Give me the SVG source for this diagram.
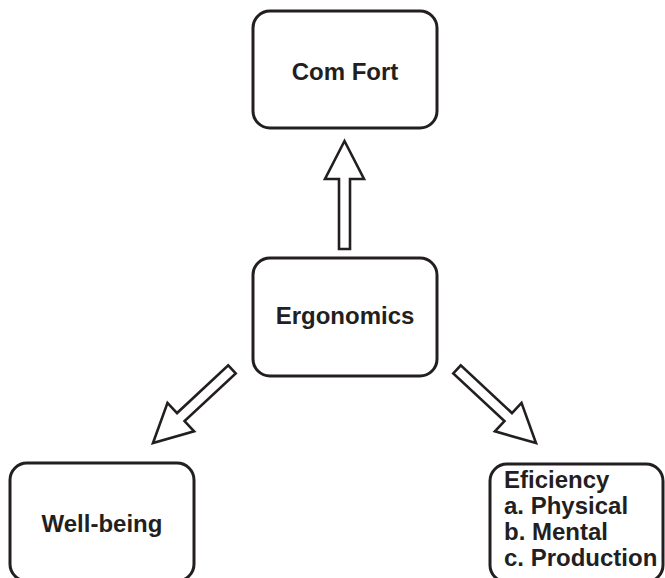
<svg xmlns="http://www.w3.org/2000/svg" width="665" height="578" viewBox="0 0 665 578">
<defs>
<style>
.box{fill:#fff;stroke:#231f20;stroke-width:3}
.lbl{font-family:"Liberation Sans",Arial,sans-serif;font-weight:bold;font-size:24px;fill:#231f20}
.arr{fill:#fff;stroke:#231f20;stroke-width:2.6;stroke-linejoin:miter}
</style>
<polygon id="arrowShape" points="0,0 19.5,38 5.5,38 5.5,108 -5.5,108 -5.5,38 -19.5,38"/>
</defs>
<rect width="665" height="578" fill="#fff"/>
<g id="connectors">
<use href="#arrowShape" class="arr" transform="translate(344.5,141)"/>
<use href="#arrowShape" class="arr" transform="translate(153,443) rotate(-133)"/>
<use href="#arrowShape" class="arr" transform="translate(536,443) rotate(133)"/>
</g>
<g id="comfort">
<rect class="box" x="253" y="11" width="184" height="117" rx="17"/>
<text class="lbl" x="345" y="80" text-anchor="middle">Com Fort</text>
</g>
<g id="ergonomics">
<rect class="box" x="253" y="258" width="184" height="118" rx="17"/>
<text class="lbl" x="345" y="324" text-anchor="middle">Ergonomics</text>
</g>
<g id="wellbeing">
<rect class="box" x="10" y="463" width="184" height="118" rx="17"/>
<text class="lbl" x="102" y="532" text-anchor="middle">Well-being</text>
</g>
<g id="efficiency">
<rect class="box" x="490" y="464" width="173" height="118" rx="17"/>
<text class="lbl" x="504" y="488">Eficiency</text>
<text class="lbl" x="504" y="514">a. Physical</text>
<text class="lbl" x="504" y="540">b. Mental</text>
<text class="lbl" x="504" y="566">c. Production</text>
</g>
</svg>
